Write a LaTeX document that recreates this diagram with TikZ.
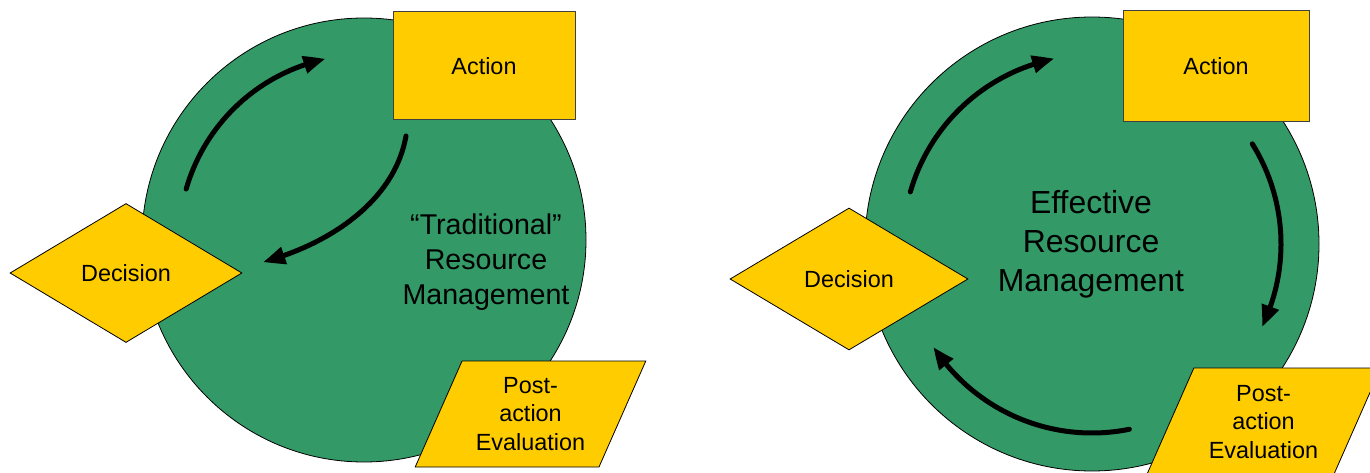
\documentclass[tikz,border=0pt]{standalone}
\usepackage{fontspec}
\setmainfont{Liberation Sans}
\usetikzlibrary{shapes.geometric,arrows.meta,bending}
\definecolor{rmgreen}{RGB}{51,153,102}
\definecolor{rmyellow}{RGB}{255,204,0}
\tikzset{
  ring/.style={circle,fill=rmgreen,draw=black,line width=0.8pt,inner sep=0pt},
  actbox/.style={rectangle,fill=rmyellow,draw=black!75,line width=1pt,font=\fontsize{23.4}{28.5}\selectfont},
  decbox/.style={diamond,fill=rmyellow,draw=black,line width=0.8pt,aspect=1.67,inner sep=0pt,font=\fontsize{23.4}{28.5}\selectfont},
  evalbox/.style={trapezium,trapezium left angle=63.4,trapezium right angle=116.6,trapezium stretches=true,fill=rmyellow,draw=black,line width=0.8pt,align=center,inner sep=2pt,font=\fontsize{23.4}{28.5}\selectfont},
  loopline/.style={line width=5pt,line cap=round,-{Triangle[length=22pt,width=17pt,bend]}}
}

\begin{document}
\begin{tikzpicture}[x=1pt,y=1pt]
\useasboundingbox (0,0) rectangle (1370,472);

\node[ring,minimum size=444] (tradring) at (364,232) {};
\node[actbox,minimum width=182,minimum height=108] (tradact) at (484,406) {Action};
\node[decbox,minimum width=232,minimum height=139] (traddec) at (126,199) {Decision};
\node[evalbox,minimum width=231,minimum height=106] (tradeval) at (530.5,58) {Post-\\action\\Evaluation};
\node[font=\fontsize{28.6}{35}\selectfont,align=center] (tradlabel) at (486,210) {“Traditional”\\Resource\\Management};
\coordinate (tradbackstart) at (406,336); \coordinate (tradbackend) at (263,210);
\draw[loopline] ([shift={(164:185)}]tradring.center) arc[start angle=164,end angle=102,radius=185];
\draw[loopline] (tradbackstart) to[out=-100,in=15,looseness=0.9] (tradbackend);

\node[ring,minimum size=454] (effring) at (1092,228) {};
\node[actbox,minimum width=186,minimum height=111] (effact) at (1216,405.5) {Action};
\node[decbox,minimum width=238,minimum height=142] (effdec) at (849,193) {Decision};
\node[evalbox,minimum width=235,minimum height=108] (effeval) at (1263.5,50) {Post-\\action\\Evaluation};
\node[font=\fontsize{31.9}{39}\selectfont,align=center] (efflabel) at (1091,228) {Effective\\Resource\\Management};
\draw[loopline] ([shift={(164:189)}]effring.center) arc[start angle=164,end angle=101.5,radius=189];
\draw[loopline] ([shift={(32:189)}]effring.center) arc[start angle=32,end angle=-26,radius=189];
\draw[loopline] ([shift={(-78.6:189)}]effring.center) arc[start angle=-78.6,end angle=-147,radius=189];
\end{tikzpicture}
\end{document}
